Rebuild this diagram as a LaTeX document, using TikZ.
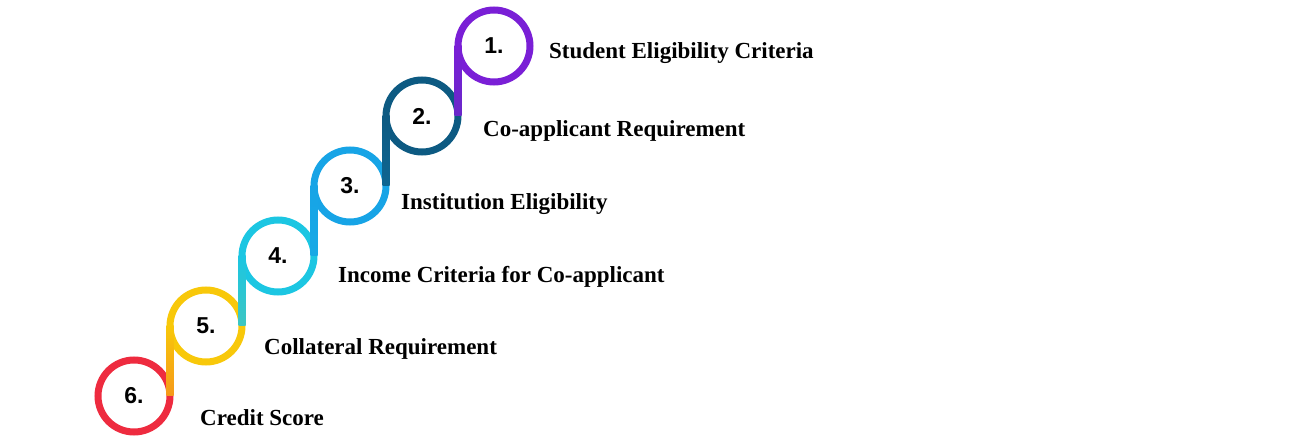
\documentclass[tikz,border=0pt]{standalone}
\usepackage{fontspec}
\setmainfont{Liberation Serif}
\newfontfamily\numfont{Liberation Sans}
\usetikzlibrary{calc}

\definecolor{cone}{HTML}{7A1FD6}
\definecolor{ctwo}{HTML}{0D5A82}
\definecolor{cthree}{HTML}{17A4E6}
\definecolor{cfour}{HTML}{1CC6E2}
\definecolor{cfive}{HTML}{F8C80A}
\definecolor{csix}{HTML}{EE2B3F}

\begin{document}
\begin{tikzpicture}
[x=1pt,y=-1pt,
 ring/.style={draw=#1, circle, line width=7pt, minimum size=72pt, inner sep=0pt, outer sep=0pt,
   font={\numfont\bfseries\fontsize{23}{23}\selectfont}},
 stepname/.style={anchor=base west, inner sep=0pt, font={\bfseries\fontsize{23}{23}\selectfont}}]
\useasboundingbox (0,0) rectangle (1296,443);

\node (r1) at (494,46) [ring=cone] {1.};
\node (r2) at (422,116) [ring=ctwo] {2.};
\node (r3) at (350,186) [ring=cthree] {3.};
\node (r4) at (278,256) [ring=cfour] {4.};
\node (r5) at (206,326) [ring=cfive] {5.};
\node (r6) at (134,396) [ring=csix] {6.};

\path[top color=cone, middle color=cone, bottom color=cone!85!ctwo] ($(r1.west)+(-3.5,0)$) rectangle ($(r2.east)+(3.5,0)$);
\path[top color=ctwo, middle color=ctwo, bottom color=ctwo!85!cthree] ($(r2.west)+(-3.5,0)$) rectangle ($(r3.east)+(3.5,0)$);
\path[top color=cthree, middle color=cthree, bottom color=cthree!85!cfour] ($(r3.west)+(-3.5,0)$) rectangle ($(r4.east)+(3.5,0)$);
\path[top color=cfour, middle color=cfour, bottom color=cfour!85!cfive] ($(r4.west)+(-3.5,0)$) rectangle ($(r5.east)+(3.5,0)$);
\path[top color=cfive, middle color=cfive, bottom color=cfive!70!csix] ($(r5.west)+(-3.5,0)$) rectangle ($(r6.east)+(3.5,0)$);

\node (t1) at (549,59) [stepname] {Student Eligibility Criteria};
\node (t2) at (483,137) [stepname] {Co-applicant Requirement};
\node (t3) at (401,210) [stepname] {Institution Eligibility};
\node (t4) at (338,283) [stepname] {Income Criteria for Co-applicant};
\node (t5) at (264,355) [stepname] {Collateral Requirement};
\node (t6) at (200,426) [stepname] {Credit Score};
\end{tikzpicture}
\end{document}
